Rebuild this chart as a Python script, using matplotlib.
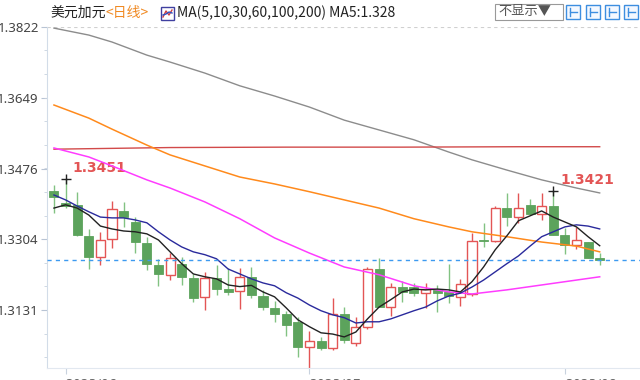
import numpy as np
import matplotlib.pyplot as plt
from matplotlib.patches import Rectangle
from matplotlib.lines import Line2D
from matplotlib.ticker import AutoMinorLocator

# daily candles, USD/CAD
opens = [1.3422, 1.3393, 1.3388, 1.3312, 1.3261, 1.3305, 1.3373, 1.3346, 1.3295, 1.3241,
         1.3217, 1.3244, 1.3209, 1.3162, 1.3209, 1.3182, 1.3178, 1.3211, 1.3166, 1.3135,
         1.3121, 1.3101, 1.3041, 1.3056, 1.3038, 1.3121, 1.3050, 1.3090, 1.3231, 1.3139,
         1.3186, 1.3187, 1.3172, 1.3180, 1.3174, 1.3163, 1.3170, 1.3302, 1.3300, 1.3380,
         1.3359, 1.3388, 1.3365, 1.3384, 1.3313, 1.3290, 1.3297, 1.3257]
highs = [1.3437, 1.3451, 1.3420, 1.3329, 1.3322, 1.3397, 1.3395, 1.3358, 1.3310, 1.3256,
         1.3270, 1.3261, 1.3219, 1.3224, 1.3241, 1.3234, 1.3234, 1.3236, 1.3180, 1.3153,
         1.3129, 1.3114, 1.3080, 1.3065, 1.3160, 1.3138, 1.3114, 1.3236, 1.3258, 1.3197,
         1.3202, 1.3196, 1.3196, 1.3192, 1.3244, 1.3207, 1.3319, 1.3344, 1.3384, 1.3418,
         1.3418, 1.3402, 1.3416, 1.3421, 1.3331, 1.3333, 1.3297, 1.3270]
lows = [1.3368, 1.3380, 1.3312, 1.3231, 1.3241, 1.3283, 1.3334, 1.3270, 1.3229, 1.3190,
        1.3204, 1.3192, 1.3151, 1.3131, 1.3167, 1.3168, 1.3134, 1.3160, 1.3131, 1.3102,
        1.3068, 1.3016, 1.2980, 1.3033, 1.3033, 1.3050, 1.3043, 1.3085, 1.3138, 1.3116,
        1.3151, 1.3164, 1.3135, 1.3127, 1.3148, 1.3141, 1.3165, 1.3285, 1.3297, 1.3335,
        1.3343, 1.3363, 1.3351, 1.3313, 1.3268, 1.3280, 1.3257, 1.3241]
closes = [1.3407, 1.3386, 1.3314, 1.3261, 1.3302, 1.3378, 1.3358, 1.3297, 1.3244, 1.3219,
          1.3258, 1.3211, 1.3160, 1.3209, 1.3182, 1.3174, 1.3211, 1.3168, 1.3137, 1.3121,
          1.3094, 1.3040, 1.3055, 1.3038, 1.3121, 1.3058, 1.3090, 1.3232, 1.3139, 1.3186,
          1.3174, 1.3172, 1.3182, 1.3172, 1.3165, 1.3195, 1.3300, 1.3300, 1.3381, 1.3359,
          1.3380, 1.3365, 1.3384, 1.3314, 1.3290, 1.3302, 1.3257, 1.3252]

# moving averages
ma5 = [1.3380, 1.3388, 1.3380, 1.3363, 1.3336, 1.3329, 1.3324, 1.3322, 1.3317, 1.3302,
       1.3273, 1.3244, 1.3219, 1.3212, 1.3207, 1.3192, 1.3188, 1.3191, 1.3175, 1.3163,
       1.3136, 1.3107, 1.3090, 1.3075, 1.3072, 1.3065, 1.3077, 1.3109, 1.3138, 1.3156,
       1.3175, 1.3182, 1.3180, 1.3182, 1.3180, 1.3175, 1.3200, 1.3236, 1.3278, 1.3312,
       1.3349, 1.3361, 1.3373, 1.3358, 1.3346, 1.3334, 1.3310, 1.3288]
ma10 = [1.3412, 1.3400, 1.3385, 1.3371, 1.3358, 1.3356, 1.3356, 1.3351, 1.3344, 1.3322,
        1.3302, 1.3285, 1.3273, 1.3266, 1.3256, 1.3231, 1.3219, 1.3207, 1.3197, 1.3190,
        1.3173, 1.3160, 1.3143, 1.3129, 1.3119, 1.3112, 1.3099, 1.3102, 1.3102, 1.3109,
        1.3119, 1.3129, 1.3138, 1.3153, 1.3165, 1.3172, 1.3187, 1.3204, 1.3224, 1.3244,
        1.3263, 1.3287, 1.3310, 1.3322, 1.3334, 1.3339, 1.3336, 1.3329]
ma_idx = [0, 3, 5, 8, 10, 13, 16, 19, 22, 25, 28, 31, 34, 36, 39, 42, 45, 47]
ma30 = [1.3527, 1.3505, 1.3483, 1.3449, 1.3429, 1.3395, 1.3354, 1.3307, 1.3270,
        1.3236, 1.3217, 1.3190, 1.3175, 1.3170, 1.3180, 1.3192, 1.3204, 1.3212]
ma60 = [1.3632, 1.3600, 1.3573, 1.3534, 1.3510, 1.3483, 1.3456, 1.3439, 1.3420,
        1.3400, 1.3380, 1.3354, 1.3334, 1.3322, 1.3310, 1.3297, 1.3287, 1.3273]
ma200 = [1.3820, 1.3803, 1.3786, 1.3754, 1.3737, 1.3710, 1.3679, 1.3654, 1.3627,
         1.3595, 1.3571, 1.3547, 1.3517, 1.3498, 1.3473, 1.3449, 1.3429, 1.3417]
ma100_idx = [0, 10, 20, 30, 40, 47]
ma100 = [1.3524, 1.3528, 1.3529, 1.3529, 1.3530, 1.3530]

yticks = [1.3131, 1.3304, 1.3476, 1.3649, 1.3822]
date_labels = ["2023/06", "2023/07", "2023/08"]
date_idx = [1, 22, 44]
max_idx, max_val = 1, 1.3451
max2_idx, max2_val = 43, 1.3421

RED = "#e35555"
GREEN = "#5ca35c"
GREEN_WICK = "#82c282"
CJK = ["Noto Sans CJK SC", "DejaVu Sans"]

W, H = 640, 380
fig = plt.figure(figsize=(6.4, 3.8), dpi=100)
ax = fig.add_axes([47 / W, (H - 368) / H, (W - 47) / W, (368 - 27.3) / H])

n = len(closes)
x = np.arange(n)
for i in range(n):
    o, h, l, c = opens[i], highs[i], lows[i], closes[i]
    up = c > o
    wick = RED if up else GREEN_WICK
    ax.vlines(i, l, h, color=wick, lw=1, zorder=2)
    body = max(abs(c - o), 0.00008)
    if up:
        ax.bar(i, body, bottom=min(o, c), width=0.78, facecolor="white",
               edgecolor=RED, lw=1, zorder=3)
    else:
        ax.bar(i, body, bottom=min(o, c), width=0.78, facecolor=GREEN,
               edgecolor=GREEN, lw=0.6, zorder=3)

ax.plot(ma_idx, ma200, color="#8c8c8c", lw=1, zorder=4)
ax.plot(ma100_idx, ma100, color="#d24a4a", lw=1, zorder=4)
ax.plot(ma_idx, ma60, color="#ff8a1c", lw=1.1, zorder=4)
ax.plot(ma_idx, ma30, color="#ff3cff", lw=1.1, zorder=4)
ax.plot(x, ma10, color="#2a2a9c", lw=1, zorder=5)
ax.plot(x, ma5, color="#222222", lw=1, zorder=5)

# last close line
ax.axhline(closes[-1], color="#3d9af0", lw=1, ls=(0, (3, 3)), zorder=6)
ax.axhline(1.3822, color="#d0d0d0", lw=0.8, ls=(0, (3, 3)), zorder=1)

# high markers
for xi, v in [(max_idx, max_val), (max2_idx, max2_val)]:
    ax.plot(xi, v, marker="+", color="#222222", ms=7, mew=1, zorder=6)
    ax.annotate(f"{v:.4f}", (xi, v), xytext=(5, 8), textcoords="offset points",
                color=RED, fontsize=10, fontweight="bold", va="center", ha="left",
                family="DejaVu Sans")

ax.set_xlim(-0.6, 50.47)
ax.set_ylim(1.2989, 1.3822)
ax.set_yticks(yticks)
ax.set_yticklabels([f"{t:.4f}" for t in yticks], fontsize=9.5, color="#444444",
                   family="Noto Sans")
ax.yaxis.set_minor_locator(AutoMinorLocator(3))
ax.tick_params(axis="y", which="major", length=4, color="#b8c4d4", pad=2)
ax.tick_params(axis="y", which="minor", length=2, color="#c8d2de")
ax.set_xticks(date_idx)
ax.set_xticklabels(date_labels, fontsize=9, color="#666666", ha="left")
ax.tick_params(axis="x", length=4, color="#c8d2de", pad=3)
for s in ["top", "right"]:
    ax.spines[s].set_visible(False)
ax.spines["left"].set_color("#d2dce8")
ax.spines["bottom"].set_color("#e2e8f0")

# header
def fx(px):
    return px / W

def fy(py):
    return 1 - py / H

fig.text(fx(50), fy(13), "美元加元", fontsize=10, color="#222222", va="center",
         family=CJK)
fig.text(fx(105), fy(13), "<日线>", fontsize=10, color="#f08a24", va="center",
         family=CJK)
fig.add_artist(Rectangle((fx(161), fy(20)), 13 / W, 13 / H, transform=fig.transFigure,
                         facecolor="white", edgecolor="#4040a0", lw=1))
fig.add_artist(Line2D([fx(163), fx(166), fx(169), fx(172)],
                      [fy(17), fy(11), fy(15), fy(10)],
                      transform=fig.transFigure, color="#d04040", lw=1))
fig.add_artist(Line2D([fx(163), fx(166), fx(169), fx(172)],
                      [fy(15), fy(14), fy(12), fy(13)],
                      transform=fig.transFigure, color="#3050c0", lw=1))
fig.text(fx(177), fy(13), "MA(5,10,30,60,100,200) MA5:1.328", fontsize=10,
         color="#222222", va="center", family=CJK)

fig.text(fx(498), fy(12), "不显示▼", fontsize=9.5, color="#555555", va="center",
         family=CJK)
fig.add_artist(Rectangle((fx(495), fy(20)), 68 / W, 16 / H, transform=fig.transFigure,
                         facecolor="none", edgecolor="#999999", lw=0.8))
for bx in [566, 586, 605, 624]:
    fig.add_artist(Rectangle((fx(bx), fy(19)), 14 / W, 14 / H,
                             transform=fig.transFigure, facecolor="#f4f8ff",
                             edgecolor="#3d8ee0", lw=1))
    fig.add_artist(Line2D([fx(bx + 4), fx(bx + 4)], [fy(16), fy(8)],
                          transform=fig.transFigure, color="#3d8ee0", lw=1))
    fig.add_artist(Line2D([fx(bx + 4), fx(bx + 11)], [fy(12), fy(12)],
                          transform=fig.transFigure, color="#3d8ee0", lw=1))

fig.savefig("out.png", dpi=100)
